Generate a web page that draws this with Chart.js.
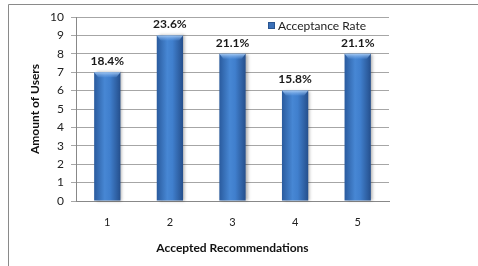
<!DOCTYPE html>
<html><head><meta charset="utf-8">
<script src="https://cdn.jsdelivr.net/npm/chart.js@4/dist/chart.umd.min.js"></script>
<style>html,body{margin:0;padding:0;background:#fff;}#wrap{position:relative;width:478px;height:266px;}</style>
</head><body><div id="wrap"><canvas id="c" width="478" height="266"></canvas></div>
<script>
const categories = ['1','2','3','4','5'];
const users = [7, 9, 8, 6, 8];
const rateLabels = ['18.4%','23.6%','21.1%','15.8%','21.1%'];
const seriesName = 'Acceptance Rate';
const FONT = 'Lato, "Open Sans", sans-serif';

const framePlugin = {
  id: 'frame',
  beforeDraw(chart) {
    const ctx = chart.ctx;
    ctx.save();
    ctx.fillStyle = '#fff';
    ctx.fillRect(0,0,chart.width,chart.height);
    ctx.strokeStyle = '#8a8a8a';
    ctx.lineWidth = 1;
    ctx.beginPath();
    ctx.moveTo(8.5, chart.height);
    ctx.lineTo(8.5, 4.5);
    ctx.lineTo(chart.width, 4.5);
    ctx.stroke();
    ctx.restore();
  }
};

const barStyle = {
  id: 'barStyle',
  beforeDatasetDraw(chart) {
    const ctx = chart.ctx;
    const meta = chart.getDatasetMeta(0);
    meta.data.forEach((bar) => {
      const l = bar.x - bar.width/2, r = bar.x + bar.width/2, w = bar.width, y = bar.y;
      const g = ctx.createLinearGradient(l, 0, r, 0);
      g.addColorStop(0, '#2a5b9e');
      g.addColorStop(0.4, '#4787d4');
      g.addColorStop(0.6, '#407fcd');
      g.addColorStop(1, '#254f8c');
      ctx.save();
      ctx.shadowColor = 'rgba(0,0,0,0.3)';
      ctx.shadowBlur = 3;
      ctx.shadowOffsetX = 2;
      ctx.shadowOffsetY = 0;
      bar.options.backgroundColor = g;
      bar.draw(ctx, chart.chartArea);
      ctx.restore();
      const hg = ctx.createLinearGradient(0, y, 0, y + 6);
      hg.addColorStop(0, 'rgba(170,205,245,0.95)');
      hg.addColorStop(1, 'rgba(90,150,225,0.1)');
      ctx.save();
      ctx.fillStyle = hg;
      ctx.beginPath();
      ctx.moveTo(l, y);
      ctx.lineTo(l + w, y);
      ctx.lineTo(l + w - 4, y + 5);
      ctx.lineTo(l + 4, y + 5);
      ctx.closePath();
      ctx.fill();
      ctx.restore();
    });
    return false;
  }
};

const dataLabels = {
  id: 'dataLabels',
  afterDatasetsDraw(chart) {
    const ctx = chart.ctx;
    const meta = chart.getDatasetMeta(0);
    ctx.save();
    ctx.font = 'bold 12px ' + FONT;
    ctx.fillStyle = '#1a1a1a';
    ctx.textAlign = 'center';
    ctx.textBaseline = 'middle';
    meta.data.forEach((bar, i) => {
      ctx.fillText(rateLabels[i], bar.x, bar.y - 11);
    });
    const ds = chart.data.datasets[0];
    ctx.fillStyle = '#3a70b8';
    ctx.fillRect(268, 22, 7, 7);
    ctx.strokeStyle = '#2a5590';
    ctx.lineWidth = 1;
    ctx.strokeRect(268.5, 22.5, 6, 6);
    ctx.font = '12px ' + FONT;
    ctx.fillStyle = '#222';
    ctx.textAlign = 'left';
    ctx.fillText(ds.label, 278, 26);
    ctx.restore();
  }
};

new Chart(document.getElementById('c'), {
  type: 'bar',
  data: {
    labels: categories,
    datasets: [{
      label: seriesName,
      data: users,
      backgroundColor: '#3a74c0',
      borderWidth: 0,
      categoryPercentage: 1,
      barPercentage: 0.42
    }]
  },
  options: {
    responsive: false,
    animation: false,
    devicePixelRatio: 1,
    layout: { padding: { left: 20, top: 17, right: 89, bottom: 5 } },
    plugins: {
      tooltip: { enabled: false },
      legend: { display: false }
    },
    scales: {
      x: {
        grid: { display: false, drawTicks: false },
        border: { display: true, color: '#888' },
        ticks: { padding: 15, color: '#222', font: { family: FONT, size: 11 } },
        title: { display: true, text: 'Accepted Recommendations', color: '#111', font: { family: FONT, size: 12, weight: 'bold' }, padding: { top: 0, bottom: 6 } },
        afterFit(s) { s.height = 60; }
      },
      y: {
        min: 0, max: 10,
        ticks: { stepSize: 1, padding: 7, color: '#222', font: { family: FONT, size: 12 } },
        grid: { color: '#a6a6a6', tickLength: 5, drawTicks: true },
        border: { display: true, color: '#888' },
        title: { display: true, text: 'Amount of Users', color: '#111', font: { family: FONT, size: 12, weight: 'bold' }, padding: { top: 8, bottom: 0 } },
        afterFit(s) { s.width = 56; }
      }
    }
  },
  plugins: [framePlugin, barStyle, dataLabels]
});
</script>
</body></html>
